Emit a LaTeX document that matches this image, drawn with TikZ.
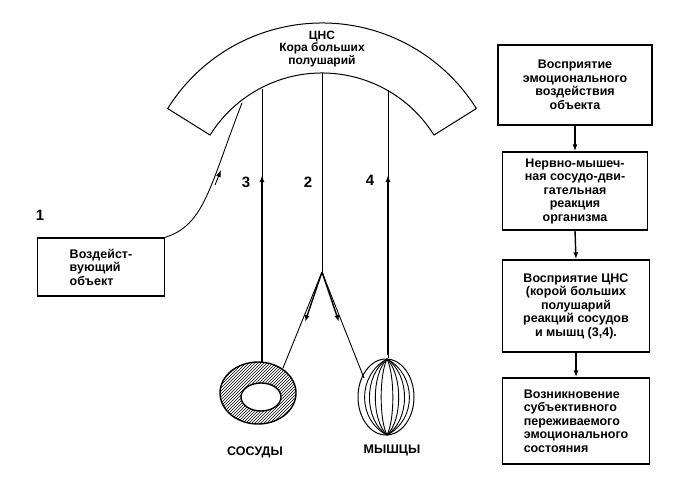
\documentclass[tikz,border=0pt]{standalone}
\usepackage{fontspec}
\setmainfont{Liberation Sans}[BoldFont={Liberation Sans Bold}]
\usetikzlibrary{patterns,arrows.meta,calc}
\begin{document}
\begin{tikzpicture}[x=1pt,y=-1pt,
  txt/.style={font=\bfseries\fontsize{12.5}{13.5}\selectfont,align=center,inner sep=1pt},
  bx/.style={draw,line width=1.4pt,txt},
  ln/.style={line width=0.9pt},
  arr/.style={line width=1.4pt,-{Latex[length=7pt,width=5pt]}}]
\useasboundingbox (0,0) rectangle (675,477);
% cortex band
\draw[line width=1pt] (322,205) ++(-148:182) arc[start angle=-148,end angle=-32,radius=182]
  -- ($(322,205)+(-32:132)$) arc[start angle=-32,end angle=-148,radius=132] -- cycle;
\node[txt,font=\bfseries\fontsize{12}{12.5}\selectfont] (cns) at (322,49) {ЦНС\\Кора больших\\полушарий};
% vertical lines
\coordinate (t3) at (262,89);
\coordinate (t2) at (322,73);
\coordinate (t4) at (388,90);
\coordinate (apex) at (322,272);
\coordinate (m3) at (262,175);
\coordinate (m4) at (388,175);
\draw[ln] (t3) -- (262,363);
\draw[line width=1.6pt] (262,363) -- (262,215);
\draw[arr] (262,230) -- (m3);
\draw[ln] (t2) -- (apex);
\draw[ln] (t4) -- (388,358);
\draw[line width=1.6pt] (388,355) -- (388,215);
\draw[arr] (388,230) -- (m4);
\node[font=\bfseries\fontsize{15}{15}\selectfont] (n3) at (246,182) {3};
\node[font=\bfseries\fontsize{15}{15}\selectfont] (n2) at (308,182) {2};
\node[font=\bfseries\fontsize{15}{15}\selectfont] (n4) at (370,180) {4};
% branches
\draw[ln] (apex) -- (283,368);
\draw[ln] (apex) -- (364,378);
\draw[arr] (apex) -- (305,322);
\draw[arr] (apex) -- (339,322);
% vessel
\draw[line width=1.4pt,pattern=north east lines,even odd rule] (258,393) ellipse[x radius=38,y radius=31] (261,397) ellipse[x radius=20,y radius=14];
\node[txt] (sos) at (255,452) {СОСУДЫ};
% muscle
\draw[line width=1pt] (386,397) ellipse[x radius=28,y radius=38];
\foreach \r in {6,12,18,23}{
  \draw[line width=0.9pt] (387,359) .. controls (387-\r*1.3,375) and (387-\r*1.3,420) .. (387,435);
  \draw[line width=0.9pt] (387,359) .. controls (387+\r*1.3,375) and (387+\r*1.3,420) .. (387,435);
}
\node[txt] (mys) at (392,450) {МЫШЦЫ};
% stimulus
\node[font=\bfseries\fontsize{15}{15}\selectfont] (n1) at (40,215) {1};
\node[bx,minimum width=127pt,minimum height=58pt,align=left] (obj) at (101,267) {Воздейст-\\вующий\\объект};
\draw[ln] (obj.north east) .. controls (205,225) and (210,185) .. (242,103);
\draw[arr,line width=0.9pt] (215,185) -- (221,170);
% right column
\node[bx,minimum width=154pt,minimum height=80pt] (b1) at (575,85) {Восприятие\\эмоционального\\воздействия\\объекта};
\node[bx,minimum width=145pt,minimum height=78pt] (b2) at (575,191) {Нервно-мышеч-\\ная сосудо-дви-\\гательная\\реакция\\организма};
\node[bx,minimum width=147pt,minimum height=92pt] (b3) at (576,306) {Восприятие ЦНС\\(корой больших\\полушарий\\реакций сосудов\\и мышц (3,4).};
\node[bx,minimum width=147pt,minimum height=86pt,align=left] (b4) at (576,421) {Возникновение\\субъективного\\переживаемого\\эмоционального\\состояния};
\draw[arr] (b1.south) -- (b2.north);
\draw[arr] (b2.south) -- (b3.north);
\draw[arr] (b3.south) -- (b4.north);
\end{tikzpicture}
\end{document}
